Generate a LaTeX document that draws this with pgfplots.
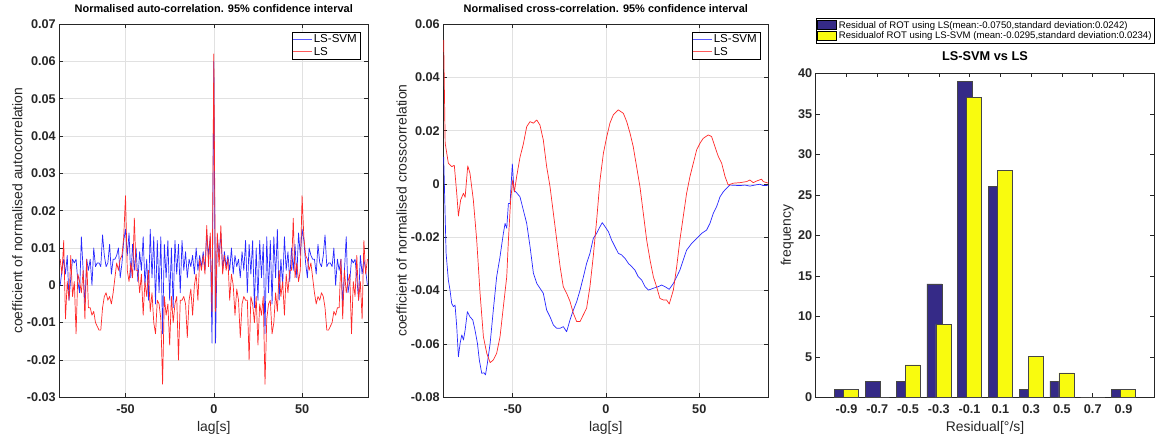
\documentclass[border=0pt]{standalone}
\usepackage{pgfplots}
\pgfplotsset{compat=1.18}
\usepackage{pgfplotstable}
\usepackage{fontspec}
\setmainfont{Liberation Sans}

\definecolor{axgray}{RGB}{38,38,38}
\definecolor{gridgray}{RGB}{225,225,225}
\definecolor{lblue}{RGB}{40,40,255}
\definecolor{lred}{RGB}{255,40,40}
\definecolor{legblue}{RGB}{90,90,255}
\definecolor{legred}{RGB}{255,90,90}
\definecolor{barblue}{RGB}{53,42,135}
\definecolor{baryellow}{RGB}{249,251,14}
\definecolor{baredge}{RGB}{70,70,70}

\pgfplotstableread{
lag svm ls
-87 0.000 0.007
-86 0.004 0.003
-85 0.007 0.012
-84 0.003 -0.009
-83 0.008 0.001
-82 -0.004 -0.004
-81 0.002 0.008
-80 0.007 -0.003
-79 0.006 0.001
-78 0.007 -0.013
-77 0.001 0.003
-76 -0.002 0.001
-75 0.013 -0.002
-74 0.004 0.004
-73 -0.005 -0.009
-72 0.007 0.007
-71 0.004 -0.006
-70 0.007 -0.006
-69 0.000 -0.008
-68 0.010 -0.007
-67 0.005 -0.010
-66 0.006 -0.011
-65 0.006 -0.012
-64 0.005 -0.012
-63 0.0135 -0.006
-62 0.008 -0.003
-61 0.005 -0.002
-60 0.006 -0.004
-59 0.011 -0.003
-58 0.003 -0.005
-57 0.007 -0.002
-56 0.007 0.002
-55 0.008 0.006
-54 0.010 0.004
-53 0.002 0.007
-52 0.006 0.008
-51 0.012 0.013
-50 0.015 0.024
-49 0.008 0.004
-48 0.014 0.001
-47 0.002 0.006
-46 0.011 0.002
-45 0.004 0.018
-44 0.010 0.004
-43 0.001 0.004
-42 0.009 -0.002
-41 0.004 0.003
-40 0.013 -0.008
-39 0.000 0.001
-38 0.007 -0.003
-37 -0.004 0.004
-36 0.015 -0.007
-35 0.002 -0.002
-34 0.013 -0.010
-33 -0.005 -0.013
-32 0.012 -0.004
-31 -0.002 -0.005
-30 0.013 -0.009
-29 -0.013 -0.0265
-28 0.011 -0.003
-27 0.002 -0.008
-26 0.012 -0.005
-25 -0.004 -0.016
-24 0.010 -0.003
-23 -0.006 -0.010
-22 0.012 -0.005
-21 0.003 -0.003
-20 0.011 -0.020
-19 -0.002 -0.004
-18 0.012 -0.004
-17 0.004 -0.003
-16 0.009 -0.005
-15 0.002 -0.014
-14 0.007 -0.004
-13 0.005 -0.001
-12 0.008 -0.008
-11 0.003 0.000
-10 0.010 0.003
-9 0.004 -0.004
-8 0.008 0.007
-7 0.005 0.004
-6 0.009 0.008
-5 0.004 0.003
-4 0.014 0.016
-3 0.008 0.005
-2 0.013 0.014
-1 -0.0155 -0.007
0 0.060 0.062
1 -0.0155 -0.007
2 0.013 0.014
3 0.008 0.005
4 0.014 0.016
5 0.004 0.003
6 0.009 0.008
7 0.005 0.004
8 0.008 0.007
9 0.004 -0.004
10 0.010 0.003
11 0.003 0.000
12 0.008 -0.008
13 0.005 -0.001
14 0.007 -0.004
15 0.002 -0.014
16 0.009 -0.005
17 0.004 -0.003
18 0.012 -0.004
19 -0.002 -0.004
20 0.011 -0.020
21 0.003 -0.003
22 0.012 -0.005
23 -0.006 -0.010
24 0.010 -0.003
25 -0.004 -0.016
26 0.012 -0.005
27 0.002 -0.008
28 0.011 -0.003
29 -0.013 -0.0265
30 0.013 -0.009
31 -0.002 -0.005
32 0.012 -0.004
33 -0.005 -0.013
34 0.013 -0.010
35 0.002 -0.002
36 0.015 -0.007
37 -0.004 0.004
38 0.007 -0.003
39 0.000 0.001
40 0.013 -0.008
41 0.004 0.003
42 0.009 -0.002
43 0.001 0.004
44 0.010 0.004
45 0.004 0.018
46 0.011 0.002
47 0.002 0.006
48 0.014 0.001
49 0.008 0.004
50 0.015 0.024
51 0.012 0.013
52 0.006 0.008
53 0.002 0.007
54 0.010 0.004
55 0.008 0.006
56 0.007 0.002
57 0.007 -0.002
58 0.003 -0.005
59 0.011 -0.003
60 0.006 -0.004
61 0.005 -0.002
62 0.008 -0.003
63 0.0135 -0.006
64 0.005 -0.012
65 0.006 -0.012
66 0.006 -0.011
67 0.005 -0.010
68 0.010 -0.007
69 0.000 -0.008
70 0.007 -0.006
71 0.004 -0.006
72 0.007 0.007
73 -0.005 -0.009
74 0.004 0.004
75 0.013 -0.002
76 -0.002 0.001
77 0.001 0.003
78 0.007 -0.013
79 0.006 0.001
80 0.007 -0.003
81 0.002 0.008
82 -0.004 -0.004
83 0.008 0.001
84 0.003 -0.009
85 0.007 0.012
86 0.004 0.003
87 0.000 0.007
}\autocorr

\pgfplotstableread{
lag val
-87 0.0102
-85.7 -0.026
-85.4 -0.0285
-84.5 -0.036
-83.6 -0.0398
-82.7 -0.0448
-81.8 -0.046
-80.9 -0.0454
-80 -0.0535
-79.1 -0.0648
-78.2 -0.0598
-77.3 -0.0566
-76.4 -0.0585
-75.5 -0.0548
-74.3 -0.0479
-72.9 -0.0498
-71.4 -0.051
-70.2 -0.0548
-68.9 -0.0598
-67.9 -0.066
-66.6 -0.071
-65.4 -0.0708
-64.6 -0.0716
-63.6 -0.0673
-62.1 -0.0598
-60.4 -0.0473
-58.6 -0.0348
-56.8 -0.0273
-55 -0.0185
-54.1 -0.0148
-53.2 -0.0166
-52.3 -0.0073
-51.4 -0.0073
-50.9 -0.001
-50.2 0.0075
-49.3 -0.0023
-47.9 -0.0033
-46.1 -0.0048
-44.3 -0.0098
-42.5 -0.0148
-40.7 -0.0235
-38.9 -0.0335
-37.1 -0.0373
-35.4 -0.0391
-33.6 -0.041
-31.8 -0.0473
-30 -0.0498
-28.2 -0.0529
-26.4 -0.0541
-24.6 -0.0541
-22.9 -0.0535
-21.1 -0.0554
-19.3 -0.051
-17.5 -0.0473
-15.7 -0.0441
-13.9 -0.0398
-12.1 -0.0348
-10.4 -0.0298
-8.6 -0.026
-6.8 -0.0204
-5 -0.0185
-3.2 -0.016
-2 -0.0145
-0.5 -0.016
1.3 -0.0179
3 -0.021
4.8 -0.0235
6.6 -0.026
8.4 -0.0266
10.2 -0.0279
12 -0.0298
13.8 -0.031
15.5 -0.0323
17.3 -0.0348
19.1 -0.036
20.9 -0.0385
22.7 -0.0398
25.4 -0.0391
28 -0.0385
29.8 -0.0379
31.6 -0.0385
33.9 -0.0395
36.1 -0.0373
37.9 -0.0348
39.6 -0.0323
41.4 -0.0285
43.2 -0.0248
45.9 -0.0223
48.6 -0.0204
51.3 -0.0185
53.9 -0.0173
55.7 -0.0148
57.5 -0.011
59.3 -0.0085
61.1 -0.0048
62.9 -0.0029
64.6 -0.0016
66.4 -0.0004
69.1 -0.0005
71.8 -0.0006
74.5 -0.0004
77.1 -0.0008
79.8 -0.0004
82.5 -0.0001
84.3 -0.0006
87 -0.0005
}\crosssvm

\pgfplotstableread{
lag val
-87 0.054
-86.2 0.0153
-84.5 0.0078
-82.7 0.0065
-81.3 0.007
-80 -0.0035
-79.1 -0.012
-77.9 -0.006
-76.4 -0.0035
-75.5 -0.005
-74.1 0.0068
-72.9 0.004
-71.1 -0.006
-69.3 -0.021
-67.5 -0.041
-65.7 -0.0573
-63.9 -0.0635
-62.1 -0.067
-60.4 -0.066
-58.6 -0.0635
-56.8 -0.0573
-55 -0.046
-53.2 -0.0348
-52.3 -0.021
-51.1 -0.006
-50 0.0015
-49.1 -0.003
-47.9 0.0027
-46.1 0.010
-44.3 0.015
-42.5 0.0215
-40.7 0.0234
-38.9 0.0228
-37.1 0.024
-35.4 0.0221
-33.6 0.0165
-31.8 0.0065
-30 -0.001
-28.2 -0.011
-26.4 -0.021
-24.6 -0.031
-22.9 -0.0385
-21.1 -0.041
-19.3 -0.044
-17.5 -0.0485
-15.7 -0.0516
-13.9 -0.0516
-12.1 -0.049
-10.4 -0.0466
-8.6 -0.0385
-6.8 -0.027
-5 -0.0135
-3.2 0.0015
-1.4 0.0115
0.4 0.0177
2.1 0.0228
3.9 0.0259
6.6 0.0278
9.3 0.0265
11.1 0.0234
12.9 0.019
14.6 0.014
16.4 0.0065
18.2 -0.001
20 -0.011
21.8 -0.021
23.6 -0.0285
25.4 -0.0348
27.1 -0.0385
28.9 -0.0429
30.7 -0.0435
32.5 -0.0435
33.9 -0.045
36.1 -0.0398
37.9 -0.031
39.6 -0.021
41.4 -0.0123
43.2 -0.0035
45 0.0028
46.8 0.0078
48.6 0.0128
50.4 0.0153
52.1 0.0171
54.8 0.0184
56.6 0.0178
58.4 0.014
60.2 0.0103
62 0.0078
63.8 0.0028
65.5 -0.0004
68.2 0.0003
71.8 0.0005
75.4 0.0009
77.1 0.0015
78.9 0.0005
80.7 0.0011
83.4 0.0018
84.3 0.0009
87 0.0003
}\crossls

\pgfplotstableread{
bin ls svm
-0.9 1 1
-0.7 2 0
-0.5 2 4
-0.3 14 9
-0.1 39 37
0.1 26 28
0.3 1 5
0.5 2 3
0.7 0 0
0.9 1 1
}\hist

\newcommand{\legline}[1]{\node[draw=none, fill=none, inner sep=0pt] at (9.5bp,0bp) {\textcolor{#1}{\rule[-0.45bp]{19bp}{0.9bp}}};}
\newcommand{\legpatch}[1]{\node[draw=none, fill=none, inner sep=0pt] at (10bp,0bp) {\fboxsep=0pt\fboxrule=0.6bp\fcolorbox{black}{#1}{\rule{0pt}{8.4bp}\hspace{18.8bp}}};}

\pgfplotsset{
  mystyle/.style={
    scale only axis,
    axis line style={axgray, line width=0.5bp},
    tick style={axgray, line width=0.5bp},
    tick align=inside,
    major tick length=4bp,
    /pgf/number format/assume math mode=true,
    tick label style={font=\fontsize{12.7}{15}\selectfont\bfseries, text=axgray},
    xticklabel style={yshift=-3.5bp},
    title style={font=\fontsize{11}{13}\selectfont\bfseries, text=black, yshift=2bp},
    scaled ticks=false,
  },
}

\begin{document}
\begin{tikzpicture}
\path[use as bounding box] (0bp,0bp) rectangle (1156bp,440bp);

% ---------- left: auto-correlation ----------
\begin{axis}[mystyle,
  at={(59.3bp,42.7bp)}, anchor=south west,
  width=309bp, height=373.3bp,
  xmin=-87.5, xmax=87.5, ymin=-0.03, ymax=0.07,
  xtick={-50,0,50},
  ytick={-0.03,-0.02,-0.01,0,0.01,0.02,0.03,0.04,0.05,0.06,0.07},
  yticklabel style={/pgf/number format/fixed, /pgf/number format/precision=2},
  grid=major, grid style={gridgray, line width=0.5bp},
  title={Normalised auto-correlation. 95\% confidence interval},
  xlabel={lag[s]}, ylabel={coefficient of normalised autocorrelation},
  every axis x label/.style={at={(axis description cs:0.5,-0.082)}, anchor=center, font=\fontsize{14}{16}\selectfont, text=axgray},
  every axis y label/.style={at={(axis description cs:-0.136,0.5)}, anchor=center, rotate=90, font=\fontsize{14}{16}\selectfont, text=axgray},
  legend style={at={(1,1)}, anchor=north east, xshift=-8.3bp, yshift=-7.7bp,
    font=\fontsize{11.6}{13}\selectfont,
    inner xsep=1bp, inner ysep=1bp, row sep=-1.5bp},
  legend cell align=left,
]
\addlegendimage{legend image code/.code={\legline{legblue}}}
\addlegendentry{LS-SVM}
\addlegendimage{legend image code/.code={\legline{legred}}}
\addlegendentry{LS}
\addplot[color=lblue, line width=0.7bp, line join=round, forget plot] table[x=lag, y=svm] {\autocorr};
\addplot[color=lred, line width=0.7bp, line join=round, forget plot] table[x=lag, y=ls] {\autocorr};
\end{axis}

% ---------- middle: cross-correlation ----------
\begin{axis}[mystyle,
  at={(443.3bp,42.7bp)}, anchor=south west,
  width=325bp, height=373.3bp,
  xmin=-87.2, xmax=87, ymin=-0.08, ymax=0.06,
  xtick={-50,0,50},
  ytick={-0.08,-0.06,-0.04,-0.02,0,0.02,0.04,0.06},
  yticklabel style={/pgf/number format/fixed, /pgf/number format/precision=2},
  grid=major, grid style={gridgray, line width=0.5bp},
  title={Normalised cross-correlation. 95\% confidence interval},
  xlabel={lag[s]}, ylabel={coefficient of normalised crosscorrelation},
  every axis x label/.style={at={(axis description cs:0.5,-0.082)}, anchor=center, font=\fontsize{14}{16}\selectfont, text=axgray},
  every axis y label/.style={at={(axis description cs:-0.128,0.5)}, anchor=center, rotate=90, font=\fontsize{14}{16}\selectfont, text=axgray},
  legend style={at={(1,1)}, anchor=north east, xshift=-8.3bp, yshift=-7.7bp,
    font=\fontsize{11.6}{13}\selectfont,
    inner xsep=1bp, inner ysep=1bp, row sep=-1.5bp},
  legend cell align=left,
]
\addlegendimage{legend image code/.code={\legline{legblue}}}
\addlegendentry{LS-SVM}
\addlegendimage{legend image code/.code={\legline{legred}}}
\addlegendentry{LS}
\addplot[color=lblue, line width=0.7bp, line join=round, forget plot] table[x=lag, y=val] {\crosssvm};
\addplot[color=lred, line width=0.7bp, line join=round, forget plot] table[x=lag, y=val] {\crossls};
\end{axis}

% ---------- right: histogram ----------
\begin{axis}[mystyle,
  at={(815.7bp,42.7bp)}, anchor=south west,
  width=338.6bp, height=324bp,
  xmin=-1.1, xmax=1.1, ymin=0, ymax=40,
  xtick={-0.9,-0.7,-0.5,-0.3,-0.1,0.1,0.3,0.5,0.7,0.9},
  xticklabels={-0.9,-0.7,-0.5,-0.3,-0.1,0.1,0.3,0.5,0.7,0.9},
  ytick={0,5,10,15,20,25,30,35,40},
  title={LS-SVM vs LS},
  title style={font=\fontsize{12.8}{15}\selectfont\bfseries, yshift=1bp},
  xlabel={Residual[°/s]}, ylabel={frequency},
  every axis x label/.style={at={(axis description cs:0.5,-0.095)}, anchor=center, font=\fontsize{14}{16}\selectfont, text=axgray},
  every axis y label/.style={at={(axis description cs:-0.084,0.5)}, anchor=center, rotate=90, font=\fontsize{14}{16}\selectfont, text=axgray},
  legend style={at={(0,1)}, anchor=south west, yshift=30bp,
    font=\fontsize{9.6}{11}\selectfont,
    inner xsep=1bp, inner ysep=1bp, row sep=-2bp},
  legend cell align=left,
]
\addlegendimage{legend image code/.code={\legpatch{barblue}}}
\addlegendentry{Residual of ROT using LS(mean:-0.0750,standard deviation:0.0242)}
\addlegendimage{legend image code/.code={\legpatch{baryellow}}}
\addlegendentry{Residualof ROT using LS-SVM (mean:-0.0295,standard deviation:0.0234)}
\addplot[ybar, bar width=0.0976, bar shift=-0.0293, fill=barblue, draw=baredge, line width=0.6bp, forget plot]
  table[x=bin, y=ls] {\hist};
\addplot[ybar, bar width=0.0976, bar shift=0.0293, fill=baryellow, draw=baredge, line width=0.6bp, forget plot]
  table[x=bin, y=svm] {\hist};
\end{axis}
\end{tikzpicture}
\end{document}
